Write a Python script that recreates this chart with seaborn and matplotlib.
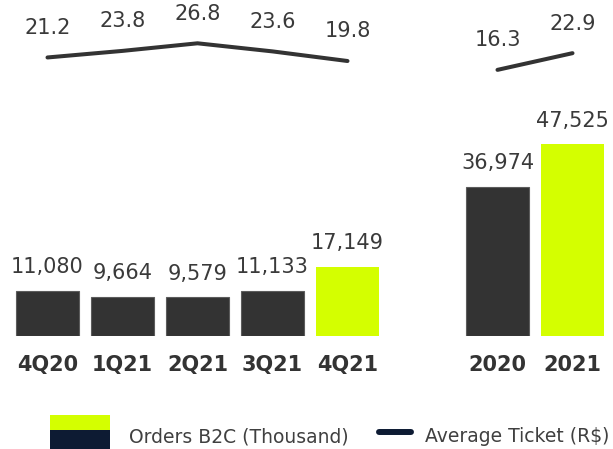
import numpy as np
import pandas as pd
import matplotlib
matplotlib.use("Agg")
import matplotlib.pyplot as plt
from matplotlib.patches import Rectangle
import seaborn as sns

# ---- data ----
periods = ["4Q20", "1Q21", "2Q21", "3Q21", "4Q21", "2020", "2021"]
slots = [0, 1, 2, 3, 4, 6, 7]           # gap between quarterly and annual groups
orders_b2c = [11080, 9664, 9579, 11133, 17149, 36974, 47525]   # thousand
avg_ticket = [21.2, 23.8, 26.8, 23.6, 19.8, 16.3, 22.9]        # R$
segment = ["q", "q", "q", "q", "q", "y", "y"]
highlight = [False, False, False, False, True, False, True]

DARK = "#333333"
LIME = "#d4ff00"
NAVY = "#0d1b33"
TEXT = "#3a3a3a"

sns.set_theme(style="white")
plt.rcParams["font.family"] = ["DejaVu Sans"]

W, H = 613, 449
fig = plt.figure(figsize=(W / 100, H / 100), dpi=100)

df = pd.DataFrame({
    "period": periods, "slot": slots, "orders": orders_b2c,
    "ticket": avg_ticket, "segment": segment,
    "color": [LIME if h else DARK for h in highlight],
})

XLIM = (-47.5 / 75, (W - 47.5) / 75)

# ---- bars: orders ----
base_px = 335.5
ax = fig.add_axes([0, 1 - base_px / H, 1, base_px / H])
ax.patch.set_alpha(0)
sns.barplot(data=df, x="slot", y="orders", hue="period",
            palette=dict(zip(df["period"], df["color"])),
            native_scale=True, dodge=False, width=0.84, saturation=1,
            legend=False, ax=ax)
for p in ax.patches:
    fc = matplotlib.colors.to_hex(p.get_facecolor())
    if fc == DARK:
        p.set_edgecolor("#5c5c5c")
        p.set_linewidth(0.8)
    else:
        p.set_linewidth(0)

ax.set_xlim(*XLIM)
ax.set_ylim(0, base_px / 0.00402)
for s, v in zip(slots, orders_b2c):
    ax.annotate(f"{v:,}", (s, v), xytext=(0, 16.9), textcoords="offset points",
                ha="center", va="center", fontsize=15, color=TEXT)

ax.set_xticks(slots, periods)
ax.tick_params(axis="x", length=0, pad=14, labelsize=15, labelcolor=DARK)
for t in ax.get_xticklabels():
    t.set_fontweight("bold")
ax.set_yticks(np.arange(10000, 80001, 10000))
ax.tick_params(axis="y", direction="in", length=4.5, width=1,
               color="#ececec", labelleft=False)
ax.set_xlabel("")
ax.set_ylabel("")
sns.despine(ax=ax, left=True, bottom=True)

# ---- line: average ticket ----
top_h = 100
axl = fig.add_axes([0, 1 - top_h / H, 1, top_h / H])
axl.patch.set_alpha(0)
sns.lineplot(data=df, x="slot", y="ticket", units="segment", estimator=None,
             color=DARK, linewidth=2.9, solid_capstyle="round", ax=axl)
axl.set_xlim(*XLIM)
axl.set_ylim(26.8 - (top_h - 43.3) / 2.53, 26.8 + 43.3 / 2.53)
for s, v in zip(slots, avg_ticket):
    axl.annotate(f"{v:.1f}", (s, v), xytext=(0, 21.3), textcoords="offset points",
                 ha="center", va="center", fontsize=15, color=TEXT)
axl.axis("off")

# ---- legend ----
axg = fig.add_axes([0, 0, 1, 1])
axg.set_xlim(0, W)
axg.set_ylim(H, 0)
axg.axis("off")
axg.add_patch(Rectangle((50, 415), 60, 15, facecolor=LIME, edgecolor="none"))
axg.add_patch(Rectangle((50, 430), 60, 19, facecolor=NAVY, edgecolor="none"))
axg.text(129, 437, "Orders B2C (Thousand)", ha="left", va="center",
         fontsize=13.5, color="#404040")
axg.plot([379, 411], [432.3, 432.3], color=NAVY, linewidth=4.3,
         solid_capstyle="round")
axg.text(425, 437, "Average Ticket (R$)", ha="left", va="center",
         fontsize=13.5, color="#404040")

fig.savefig("out.png", dpi=100)
